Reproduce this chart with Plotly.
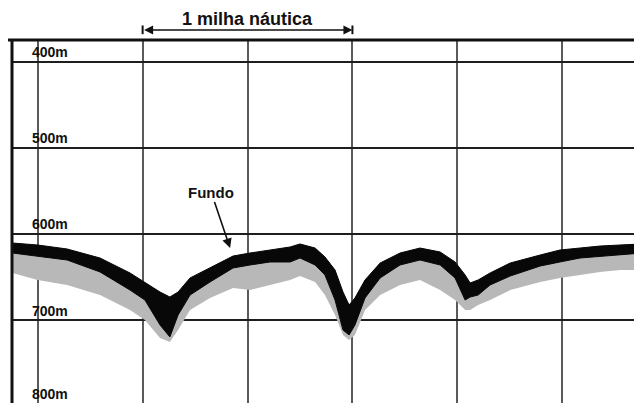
import plotly.graph_objects as go

# Distance along track (nautical miles) and seabed echo depths (m)
dist_nm = [-0.12, 0.0, 0.14, 0.297, 0.44, 0.511, 0.583, 0.63, 0.669, 0.726, 0.821, 0.931,
           1.012, 1.107, 1.203, 1.25, 1.322, 1.369, 1.417, 1.455, 1.484, 1.512, 1.56, 1.632,
           1.727, 1.822, 1.918, 1.989, 2.037, 2.061, 2.099, 2.156, 2.252, 2.395, 2.489,
           2.585, 2.68, 2.775, 2.88]
# top edge of the strong (black) bottom echo
bottom_top_m = [610.6, 612.9, 617.5, 628.0, 645.4, 655.9, 667.5, 673.3, 667.5, 651.2, 639.6, 625.7,
                622.2, 618.7, 615.2, 611.7, 616.4, 626.8, 641.9, 667.5, 682.6, 674.4, 653.5, 633.8,
                622.2, 616.4, 621.0, 632.6, 647.7, 657.0, 653.5, 645.4, 633.8, 624.5, 618.7,
                616.4, 614.1, 612.9, 611.7]
# lower edge of the black band
bottom_dark_m = [622.2, 625.7, 630.3, 644.2, 665.2, 676.8, 705.8, 719.7, 694.2, 671.0, 655.9, 639.6,
                 636.1, 632.6, 632.6, 628.0, 636.1, 647.7, 676.8, 711.6, 717.4, 705.8, 674.4, 651.2,
                 636.1, 630.3, 636.1, 651.2, 676.8, 673.3, 671.0, 659.3, 648.9, 637.3, 632.6,
                 628.0, 625.7, 624.5, 622.2]
# lower edge of the weaker (grey) scattered echo
bottom_echo_m = [645.4, 653.5, 659.3, 671.0, 688.4, 700.0, 720.9, 725.5, 711.6, 688.4, 674.4, 662.8,
                 665.2, 659.3, 653.5, 648.9, 655.9, 671.0, 694.2, 717.4, 723.2, 717.4, 688.4, 671.0,
                 659.3, 653.5, 665.2, 676.8, 688.4, 688.4, 682.6, 676.8, 665.2, 655.9, 651.2,
                 647.7, 644.2, 641.9, 641.9]

depth_ticks = [400, 500, 600, 700, 800]
depth_labels = ["400m", "500m", "600m", "700m", "800m"]

scale_start_nm = 0.5
scale_end_nm = 1.5
scale_label = "1 milha náutica"
fundo_label = "Fundo"
fundo_point = (0.917, 616.4)

fig = go.Figure()
fig.add_trace(go.Scatter(
    x=dist_nm + dist_nm[::-1],
    y=bottom_top_m + bottom_echo_m[::-1],
    fill="toself", fillcolor="#b8b8b8", mode="lines",
    line=dict(width=0), hoverinfo="skip", showlegend=False))
fig.add_trace(go.Scatter(
    x=dist_nm + dist_nm[::-1],
    y=bottom_top_m + bottom_dark_m[::-1],
    fill="toself", fillcolor="#080808", mode="lines",
    line=dict(width=1, color="#080808"), hoverinfo="skip", showlegend=False))

annotations = []
for i, (d, lab) in enumerate(zip(depth_ticks, depth_labels)):
    # labels sit just above their depth line; the last one is nudged up to stay inside the page
    offset = 14.0 if i == len(depth_ticks) - 1 else 11.0
    annotations.append(dict(
        x=-0.034, y=d - offset, xref="x", yref="y", text="<b>" + lab + "</b>",
        showarrow=False, xanchor="left", yanchor="middle", borderpad=0,
        font=dict(family="Liberation Sans, Arial", size=14, color="#111111")))

# title of the distance scale
annotations.append(dict(
    x=(scale_start_nm + scale_end_nm) / 2, y=1, xref="x", yref="paper",
    text="<b>" + scale_label + "</b>", showarrow=False, yanchor="middle", yshift=21,
    font=dict(family="Liberation Sans, Arial", size=18, color="#111111")))
# double-headed scale arrow
annotations.append(dict(
    x=scale_end_nm, y=1, xref="x", yref="paper", yshift=10,
    ax=scale_start_nm, ay=0, axref="x", ayref="pixel",
    text="", showarrow=True, arrowside="end+start", arrowhead=2,
    startarrowhead=2, arrowsize=1.2, startarrowsize=1.2, arrowwidth=1.5,
    arrowcolor="#111111"))
# "Fundo" pointer
annotations.append(dict(
    x=fundo_point[0], y=fundo_point[1], xref="x", yref="y",
    text="<b>" + fundo_label + "</b>", showarrow=True, arrowhead=2,
    arrowsize=1.2, arrowwidth=1.6, arrowcolor="#111111",
    ax=-19, ay=-56,
    font=dict(family="Liberation Sans, Arial", size=15, color="#111111")))

shapes = [
    dict(type="line", xref="paper", yref="paper", x0=-0.01, x1=1, y0=1, y1=1,
         line=dict(color="#111111", width=3)),
    dict(type="line", xref="paper", yref="paper", x0=0, x1=0, y0=0, y1=1,
         line=dict(color="#111111", width=3)),
    dict(type="line", xref="x", yref="paper", x0=scale_start_nm, x1=scale_start_nm,
         y0=1.016, y1=1.04, line=dict(color="#111111", width=2)),
    dict(type="line", xref="x", yref="paper", x0=scale_end_nm, x1=scale_end_nm,
         y0=1.016, y1=1.04, line=dict(color="#111111", width=2)),
]

# page body has an 8px margin, so the figure is shrunk and shifted to compensate
fig.update_layout(
    width=634, height=395,
    margin=dict(l=4, r=0, t=32, b=0),
    paper_bgcolor="white", plot_bgcolor="white",
    showlegend=False,
    annotations=annotations, shapes=shapes,
    xaxis=dict(range=[-0.1225, 2.880], tick0=0, dtick=0.5, showgrid=True,
               gridcolor="#5a5a5a", gridwidth=2, showticklabels=False,
               zeroline=False, ticks="", showline=False, fixedrange=True),
    yaxis=dict(range=[796.4, 374.8], tick0=400, dtick=100, showgrid=True,
               gridcolor="#1e1e1e", gridwidth=2, showticklabels=False,
               zeroline=False, ticks="", showline=False, fixedrange=True),
)

fig.write_html("out.html")
